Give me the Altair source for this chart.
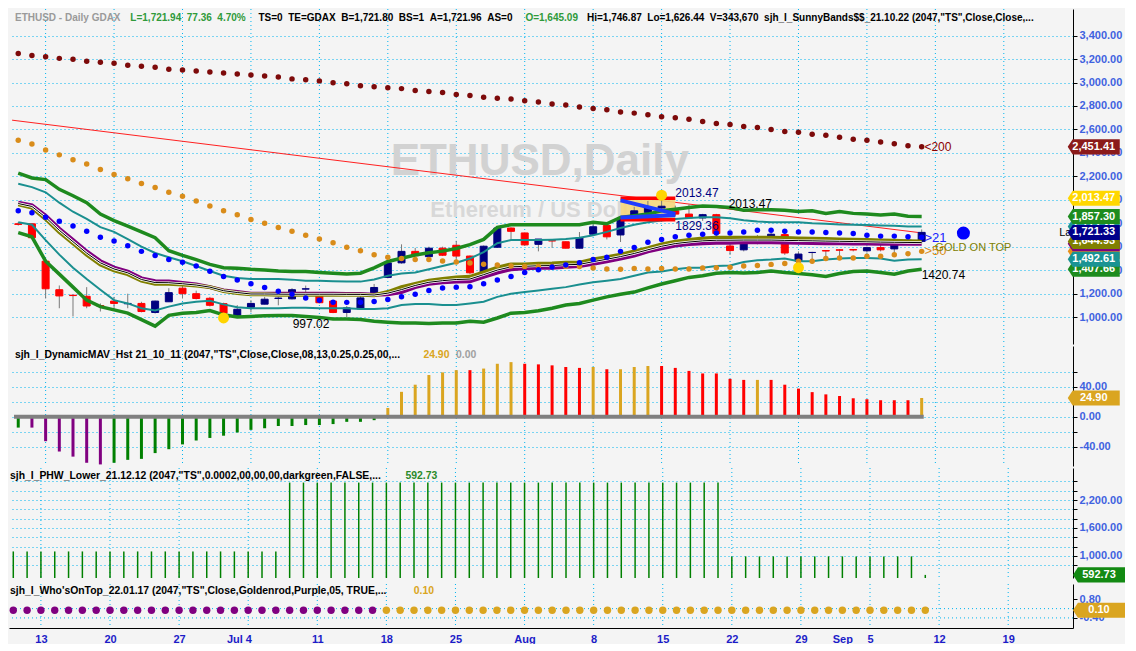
import altair as alt
import pandas as pd

FONT = "Liberation Sans"
GRID = "#00b4f0"
AXIS_BLUE = "#3f62e0"
DATE_BLUE = "#1c1cc8"
BG = "#f4f4f4"
HDR = 10.4
HDR_MAIN = 10

# ---------------- data (bar index 0 = Mon 13 Jun 2022, 5 bars per week) ----------------
bar_index = list(range(-2, 65))

opens = [1795, 1795, 1476, 1233, 1186, 1177, 1097, 1136, 1113, 1116, 1039, 1130,
         1246, 1199, 1160, 1114, 1014, 1083, 1110, 1158, 1155, 1238, 1180, 1136,
         1039, 1069, 1194, 1338, 1462, 1560, 1515, 1587, 1612, 1520, 1383, 1595,
         1759, 1717, 1620, 1651, 1642, 1587, 1706, 1781, 1700, 1865, 1892, 1930,
         1906, 1878, 1845, 1873, 1606, 1573, 1643, 1676, 1703, 1476, 1550, 1567,
         1573, 1575, 1565, 1592, 1581, 1650, 1645.09]
highs = [1810, 1800, 1480, 1269, 1190, 1255, 1116, 1172, 1199, 1130, 1140, 1246,
         1282, 1225, 1172, 1122, 1102, 1144, 1172, 1172, 1246, 1268, 1199, 1144,
         1094, 1199, 1282, 1504, 1620, 1590, 1600, 1600, 1650, 1525, 1610, 1765,
         1765, 1720, 1665, 1665, 1645, 1725, 1815, 1790, 1845, 1940, 1990, 2013.47,
         1950, 1960, 1880, 1880, 1655, 1690, 1700, 1720, 1715, 1560, 1556, 1570,
         1578, 1580, 1600, 1620, 1640, 1690, 1746.87]
lows = [1780, 1668, 1158, 1075, 1005, 1075, 1047, 1066, 1075, 1040, 1030, 1128,
        1158, 1150, 1090, 997.02, 1000, 1040, 1108, 1100, 1150, 1158, 1116, 1033,
        1000, 1060, 1180, 1330, 1455, 1515, 1505, 1520, 1460, 1365, 1380, 1590,
        1660, 1612, 1560, 1590, 1585, 1585, 1700, 1662, 1640, 1850, 1880, 1900,
        1860, 1840, 1820, 1680, 1530, 1560, 1620, 1640, 1530, 1420.74, 1457, 1485,
        1490, 1560, 1550, 1560, 1530, 1620, 1626.44]
closes = [1790, 1676, 1241, 1180, 1183, 1094, 1092, 1116, 1116, 1047, 1136, 1208,
          1199, 1158, 1100, 1033, 1066, 1116, 1152, 1162, 1233, 1241, 1122, 1039,
          1078, 1163, 1252, 1462, 1560, 1523, 1587, 1527, 1520, 1377, 1604, 1759,
          1731, 1615, 1665, 1649, 1587, 1676, 1770, 1684, 1837, 1906, 1934, 1945,
          1878, 1845, 1873, 1712, 1567, 1656, 1676, 1706, 1546, 1537, 1551, 1563,
          1570, 1572, 1592, 1573, 1614, 1656, 1721.94]

ma200 = [3248, 3231, 3220, 3206, 3198, 3181, 3173, 3164, 3148, 3139, 3131, 3114,
         3106, 3098, 3089, 3081, 3073, 3064, 3056, 3048, 3031, 3023, 3014, 2998,
         2989, 2973, 2964, 2956, 2948, 2931, 2923, 2914, 2898, 2889, 2874, 2866,
         2859, 2845, 2834, 2817, 2809, 2792, 2778, 2767, 2748, 2739, 2725, 2709,
         2700, 2686, 2667, 2650, 2642, 2625, 2617, 2600, 2583, 2575, 2558, 2550,
         2533, 2517, 2508, 2492, 2478, 2461, 2451.41]
ma50 = [2508, 2475, 2425, 2383, 2342, 2305, 2258, 2216, 2180, 2139, 2105, 2064,
        2030, 1989, 1947, 1906, 1872, 1831, 1800, 1764, 1731, 1698, 1665, 1634,
        1596, 1565, 1532, 1510, 1500, 1490, 1490, 1478, 1470, 1460, 1450, 1443,
        1435, 1432, 1430, 1430, 1432, 1430, 1418, 1410, 1408, 1413, 1410, 1413,
        1410, 1410, 1418, 1421, 1425, 1435, 1440, 1449, 1457, 1476, 1476, 1499,
        1504, 1504, 1518, 1518, 1532, 1540, 1560]
ma21 = [1906, 1889, 1850, 1817, 1776, 1731, 1681, 1648, 1607, 1560, 1524, 1490,
        1468, 1435, 1391, 1346, 1316, 1283, 1252, 1219, 1194, 1163, 1144, 1127,
        1125, 1127, 1133, 1150, 1172, 1194, 1227, 1247, 1255, 1258, 1283, 1316,
        1346, 1380, 1404, 1427, 1443, 1463, 1490, 1510, 1560, 1593, 1637, 1662,
        1684, 1698, 1706, 1717, 1717, 1726, 1740, 1740, 1731, 1726, 1726, 1720,
        1717, 1712, 1698, 1690, 1690, 1684, 1681]
band_outer_up = [2227, 2186, 2172, 2089, 2034, 1975, 1878, 1823, 1776, 1726, 1676, 1565,
                 1526, 1490, 1449, 1421, 1416, 1407, 1402, 1393, 1388, 1388, 1380, 1374,
                 1366, 1374, 1420, 1474, 1501, 1529, 1548, 1562, 1584, 1617, 1662, 1765,
                 1787, 1787, 1787, 1787, 1787, 1787, 1809, 1795, 1850, 1864, 1878, 1906,
                 1920, 1934, 1947, 1942, 1934, 1911, 1914, 1914, 1911, 1900, 1906, 1884,
                 1900, 1884, 1878, 1870, 1878, 1859, 1857.30]
band_inner_up = [2136, 2108, 2064, 1975, 1898, 1837, 1767, 1726, 1665, 1601, 1546, 1510,
                 1476, 1435, 1393, 1352, 1332, 1324, 1324, 1324, 1319, 1310, 1310, 1305,
                 1302, 1302, 1320, 1352, 1371, 1380, 1407, 1435, 1463, 1499, 1554, 1629,
                 1656, 1656, 1656, 1660, 1665, 1676, 1698, 1726, 1759, 1787, 1809, 1823,
                 1837, 1845, 1851, 1851, 1842, 1825, 1815, 1809, 1809, 1809, 1800, 1795,
                 1790, 1787, 1785, 1781, 1778, 1773, 1772.35]
band_inner_lo = [1809, 1787, 1656, 1532, 1421, 1324, 1233, 1144, 1116, 1075, 1055, 1089,
                 1116, 1130, 1138, 1108, 1083, 1075, 1075, 1075, 1080, 1080, 1075, 1075,
                 1075, 1069, 1069, 1075, 1102, 1111, 1111, 1102, 1102, 1116, 1130, 1172,
                 1199, 1213, 1227, 1241, 1255, 1277, 1296, 1310, 1324, 1352, 1380, 1388,
                 1407, 1421, 1421, 1435, 1440, 1470, 1485, 1490, 1500, 1476, 1476, 1490,
                 1500, 1504, 1504, 1500, 1480, 1490, 1492.61]
band_outer_lo = [1720, 1684, 1476, 1366, 1255, 1144, 1089, 1061, 1033, 978, 922, 1014,
                 1033, 1039, 1055, 1019, 1000, 1005, 1011, 1014, 1014, 1005, 997, 983,
                 983, 978, 964, 956, 950, 950, 945, 950, 950, 964, 956, 992,
                 1033, 1039, 1053, 1075, 1102, 1116, 1144, 1172, 1194, 1213, 1249, 1282,
                 1310, 1338, 1352, 1374, 1380, 1375, 1380, 1393, 1380, 1371, 1360, 1346,
                 1371, 1388, 1393, 1380, 1366, 1393, 1407.66]
avg_purple = [1975, 1953, 1864, 1753, 1656, 1559, 1476, 1421, 1388, 1330, 1305, 1302,
              1291, 1277, 1255, 1227, 1213, 1199, 1199, 1199, 1199, 1199, 1199, 1199,
              1196, 1196, 1190, 1194, 1213, 1255, 1283, 1296, 1302, 1305, 1343, 1380,
              1407, 1416, 1421, 1421, 1429, 1435, 1454, 1476, 1499, 1524, 1560, 1587,
              1610, 1623, 1629, 1634, 1634, 1637, 1637, 1637, 1635, 1633, 1632, 1630,
              1630, 1628, 1627, 1626, 1625, 1625, 1625]
avg_gold = [1961, 1933, 1837, 1726, 1629, 1532, 1449, 1399, 1366, 1310, 1283, 1283,
            1277, 1269, 1255, 1222, 1205, 1194, 1194, 1191, 1190, 1190, 1190, 1190,
            1190, 1190, 1186, 1213, 1255, 1283, 1310, 1324, 1338, 1343, 1380, 1421,
            1449, 1449, 1454, 1457, 1463, 1463, 1490, 1510, 1532, 1560, 1587, 1620,
            1643, 1656, 1670, 1676, 1676, 1676, 1676, 1676, 1673, 1670, 1668, 1665,
            1662, 1660, 1656, 1652, 1650, 1647, 1644.93]

hist_values = [-14.6, -14.6, -32.7, -46.5, -53.3, -61.5, -63.7, -61.5, -57.6, -56.3, -48.6, -43.4,
               -37.0, -31.8, -28.4, -25.4, -21.1, -17.6, -15.5, -12.5, -12.5, -11.2, -11.2, -9.9,
               -6.9, -6.9, -4.7, 11.6, 33.1, 42.6, 55.5, 59.0, 62.0, 62.0, 64.1, 70.5,
               72.7, 70.5, 69.7, 68.4, 66.2, 65.0, 66.2, 63.2, 63.2, 66.2, 67.5, 67.5,
               65.0, 61.0, 57.6, 57.6, 50.4, 49.0, 49.0, 49.0, 42.6, 37.4, 32.7, 29.7,
               27.5, 24.5, 23.2, 21.9, 21.9, 21.9, 24.9]
hist_kind = ("gpppppp" "gggggggggggggggggggg" "oooooo" "r" "ooo" "rrrrr" "o" "r" "ooo"
             "rrrrrrr" "o" "rrrrrrrrrrr" "o")
phw_values = [1096, 1096, 1096, 1096, 1096, 1096, 1096, 1096, 1096, 1096, 1096, 1096,
              1096, 1096, 1096, 1096, 1096, 1096, 1096, 1096, 2574, 2574, 2574, 2574,
              2574, 2574, 2574, 2574, 2574, 2574, 2574, 2574, 2574, 2574, 2574, 2574,
              2574, 2574, 2574, 2574, 2574, 2574, 2574, 2574, 2574, 2574, 2574, 2574,
              2574, 2574, 2574, 2574, 990, 990, 990, 990, 990, 990, 990, 990,
              990, 990, 990, 990, 990, 990, 592.73]
top_kind = ("ppppppppppppppppppppppppppp"
            "oooooooooooooooooooooooooooooooooooooooo")
top_values = [0.1] * 67

week_starts = [0, 5, 10, 15, 20, 25, 30, 35, 40, 45, 50, 55, 60, 65, 70]
x_label_pos = [0, 5, 10, 14, 15, 20, 25, 30, 35, 40, 45, 50, 55, 58, 60, 65, 70]
x_label_txt = ["13", "20", "27", "Jul", "4", "11", "18", "25", "Aug", "8", "15", "22", "29",
               "Sep", "5", "12", "19"]

for arr in [opens, highs, lows, closes, ma200, ma50, ma21, band_outer_up, band_inner_up,
            band_inner_lo, band_outer_lo, avg_purple, avg_gold, hist_values, phw_values]:
    assert len(arr) == 67, len(arr)
assert len(hist_kind) == 67 and len(top_kind) == 67

KIND_COL = {"g": "#008000", "p": "#800080", "o": "#daa520", "r": "#ff0000"}

# ---------------- layout ----------------
W = 1064
H1, H2, H3, H4 = 335, 120, 110, 44
XS = alt.Scale(domain=[-2.31, 74.69], nice=False, zero=False)
FLAG_I = 76.57
FLAG_PATH = "M-1,0L-0.81,-0.29L1,-0.29L1,0.29L-0.81,0.29Z"
FLAG_SIZE = 2704

no_x = alt.Axis(labels=False, ticks=False, domain=False, grid=False, title=None)
bottom_x = alt.Axis(values=x_label_pos, grid=False, ticks=False, domain=True, domainColor="black",
                    labelExpr="[" + ",".join("'%s'" % t for t in x_label_txt) + "][indexof(["
                              + ",".join(str(p) for p in x_label_pos) + "], datum.value)]",
                    labelColor=DATE_BLUE, labelFont=FONT, labelFontSize=11, labelFontWeight="bold",
                    labelPadding=5, labelOverlap=False, labelFlush=False, title=None)


def yaxis(values, label_expr=None, fmt=None):
    kw = dict(orient="right", values=values, grid=True, gridColor=GRID, gridDash=[1, 3],
              gridWidth=1, labelColor=AXIS_BLUE, labelFont=FONT, labelFontSize=11,
              labelFontWeight="bold", tickColor="black", tickSize=4, labelPadding=2,
              domainColor="black", title=None, labelOverlap=False, labelFlush=False)
    if label_expr:
        kw["labelExpr"] = label_expr
    if fmt:
        kw["format"] = fmt
    return alt.Axis(**kw)


class Pane:
    def __init__(self, ydom, yax, xax, height):
        self.ys = alt.Scale(domain=ydom, nice=False, zero=False)
        self.yax = yax
        self.xax = xax
        self.h = height
        self.layers = []

    def x(self, f="i"):
        return alt.X(f + ":Q", scale=XS, axis=self.xax)

    def y(self, f="v"):
        return alt.Y(f + ":Q", scale=self.ys, axis=self.yax)

    def add(self, c):
        self.layers.append(c)

    def grid(self):
        self.add(alt.Chart(pd.DataFrame({"i": week_starts})).mark_rule(
            color=GRID, strokeDash=[1, 3], strokeWidth=1).encode(x=self.x()))

    def text(self, i, v, t, color, size=11, weight="normal", align="left"):
        self.add(alt.Chart(pd.DataFrame({"i": [i], "v": [v], "t": [t]})).mark_text(
            align=align, baseline="middle", font=FONT, fontSize=size, fontWeight=weight,
            color=color).encode(x=self.x(), y=self.y(), text="t:N"))

    def flag(self, v, t, color):
        d = pd.DataFrame({"i": [FLAG_I], "v": [v], "t": [t]})
        self.add(alt.Chart(d).mark_point(shape=FLAG_PATH, size=FLAG_SIZE, filled=True,
                                         color=color, opacity=1, strokeWidth=0)
                 .encode(x=self.x(), y=self.y()))
        if t:
            self.add(alt.Chart(d).mark_text(font=FONT, fontSize=11, fontWeight="bold",
                                            color="white", align="center", baseline="middle")
                     .encode(x=self.x(), y=self.y(), text="t:N"))

    def chart(self):
        return alt.layer(*self.layers).properties(width=W, height=self.h)


# ---------------- main price pane ----------------
p1 = Pane([770, 3627], yaxis(list(range(1000, 3401, 200)), fmt=",.2f"), no_x, H1)
p1.grid()
p1.text(36.1, 2323, "ETHUSD,Daily", "#d2d2d2", size=44, weight="bold", align="center")
p1.text(36.1, 1916, "Ethereum / US Dollar", "#d8d8d8", size=22, weight="bold", align="center")

series = pd.DataFrame({"i": bar_index, "m200": ma200, "m50": ma50, "m21": ma21,
                       "ou": band_outer_up, "iu": band_inner_up, "il": band_inner_lo,
                       "ol": band_outer_lo, "pu": avg_purple, "go": avg_gold})
series["mid"] = (series["pu"] + series["go"]) / 2

trend = pd.DataFrame({"i": [-2.45, 64.1], "v": [2679, 1716]})
p1.add(alt.Chart(trend).mark_line(color="#ff2020", strokeWidth=1, clip=True)
       .encode(x=p1.x(), y=p1.y()))

# pennant fill
pen = pd.DataFrame({"i": [42.0], "i2": [46.0], "v": [1829.36], "v2": [2013.47]})
p1.add(alt.Chart(pen).mark_rect(color="#f6d77c", opacity=0.9)
       .encode(x=p1.x(), x2=alt.X2("i2"), y=p1.y(), y2=alt.Y2("v2")))

cand = pd.DataFrame({"i": bar_index, "o": opens, "h": highs, "l": lows, "c": closes})
cand["dir"] = ["up" if c > o else "down" for o, c in zip(opens, closes)]
cscale = alt.Scale(domain=["up", "down"], range=["#000080", "#ff0000"])
p1.add(alt.Chart(cand).mark_rule(color="#7a7a7a", strokeWidth=1)
       .encode(x=p1.x(), y=p1.y("l"), y2=alt.Y2("h")))
p1.add(alt.Chart(cand).mark_bar(size=7, strokeWidth=1)
       .encode(x=p1.x(), y=p1.y("o"), y2=alt.Y2("c"),
               color=alt.Color("dir:N", scale=cscale, legend=None),
               stroke=alt.Stroke("dir:N", scale=cscale, legend=None)))

for col, color, w in [("ou", "#1e8a1e", 3.5), ("ol", "#1e8a1e", 3.5),
                      ("iu", "#1a8f8f", 2), ("il", "#1a8f8f", 2)]:
    p1.add(alt.Chart(series).mark_line(color=color, strokeWidth=w)
           .encode(x=p1.x(), y=p1.y(col)))

p1.add(alt.Chart(series).mark_line(color="#800080", strokeWidth=4).encode(x=p1.x(), y=p1.y("pu")))
p1.add(alt.Chart(series).mark_line(color="#808000", strokeWidth=4).encode(x=p1.x(), y=p1.y("go")))
p1.add(alt.Chart(series).mark_line(color="white", strokeWidth=2.5).encode(x=p1.x(), y=p1.y("mid")))
p1.add(alt.Chart(series).mark_line(color="black", strokeWidth=1).encode(x=p1.x(), y=p1.y("mid")))

for col, color in [("m200", "#7d0a0a"), ("m50", "#d98c1a"), ("m21", "#0000ff")]:
    p1.add(alt.Chart(series).mark_circle(color=color, size=30, opacity=1)
           .encode(x=p1.x(), y=p1.y(col)))

# pennant lines
pen_red = pd.DataFrame({"i": [42.0, 42.0], "i2": [46.0, 46.0], "v": [2013.47, 1829.36]})
p1.add(alt.Chart(pen_red).mark_rule(color="#ff0000", strokeWidth=3.5)
       .encode(x=p1.x(), x2=alt.X2("i2"), y=p1.y()))
pen_blue = pd.DataFrame({"i": [42.0, 42.0], "i2": [46.0, 46.0],
                         "v": [1995, 1848], "v2": [1880, 1868]})
p1.add(alt.Chart(pen_blue).mark_rule(color="#1f3cff", strokeWidth=4)
       .encode(x=p1.x(), x2=alt.X2("i2"), y=p1.y(), y2=alt.Y2("v2")))

# swing markers
swings = pd.DataFrame({"i": [13, 45, 55], "v": [992, 2039, 1421]})
p1.add(alt.Chart(swings).mark_circle(color="#ffd400", size=120, opacity=1)
       .encode(x=p1.x(), y=p1.y()))

p1.text(46.0, 2062, "2013.47", "#000080", size=12)
p1.text(46.0, 1774, "1829.36", "#000080", size=12)
p1.text(49.9, 1966, "2013.47", "#000000", size=12)
p1.text(18.05, 944, "997.02", "#000000", size=12)
p1.text(64.0, 1359, "1420.74", "#000000", size=12)
p1.text(64.2, 2448, "<200", "#8b0000", size=12)
p1.text(64.2, 1675, ">21", "#2020ff", size=13)
p1.text(64.2, 1559, ">50", "#d98c1a", size=13)
p1.text(65.0, 1592, "GOLD ON TOP", "#808000", size=11)
p1.text(74.05, 1716, "Last", "#000000", size=11)

big = pd.DataFrame({"i": [67.05], "v": [1716]})
p1.add(alt.Chart(big).mark_circle(color="#0000ff", size=170, opacity=1)
       .encode(x=p1.x(), y=p1.y()))

main_flags = [(2451.41, "2,451.41", "#8b1a1a"), (2013.47, "2,013.47", "#ffd700"),
              (1560, "", "#e8901a"), (1625, "", "#800080"),
              (1644.93, "1,644.93", "#808000"), (1407.66, "1,407.66", "#1e8c1e"),
              (1492.61, "1,492.61", "#1a9393"), (1772.35, "1,772.35", "#1a9393"),
              (1857.30, "1,857.30", "#1e8c1e"), (1721.33, "1,721.33", "#00008b")]
for v, t, c in main_flags:
    p1.flag(v, t, c)

hdr_i = [-2.24, 6.19, 15.55, 35.05, 39.55]
hdr_t = ["ETHUSD - Daily GDAX", "L=1,721.94 \u00a077.36 \u00a04.70%",
         "TS=0 \u00a0TE=GDAX \u00a0B=1,721.80 \u00a0BS=1 \u00a0A=1,721.96 \u00a0AS=0",
         "O=1,645.09",
         "Hi=1,746.87 \u00a0Lo=1,626.44 \u00a0V=343,670 \u00a0sjh_I_SunnyBands$$_21.10.22 "
         "(2047,\"TS\",Close,Close,..."]
hdr_c = ["#9a9a9a", "#2f9a3a", "#000000", "#2f9a3a", "#000000"]
for i, t, c in zip(hdr_i, hdr_t, hdr_c):
    p1.text(i, 3551, t, c, size=HDR_MAIN, weight="bold")

# ---------------- DynamicMAV histogram ----------------
p2 = Pane([-65.8, 94.2],
          yaxis([-40, -20, 0, 20, 40, 60],
                label_expr="datum.value == 40 ? '40.00' : datum.value == 0 ? '0.00' : "
                           "datum.value == -40 ? '-40.00' : ''"), no_x, H2)
p2.grid()
hist = pd.DataFrame({"i": bar_index, "v": hist_values, "z": [0] * 67,
                     "col": [KIND_COL[k] for k in hist_kind]})
p2.add(alt.Chart(hist).mark_bar(size=3).encode(
    x=p2.x(), y=p2.y(), y2=alt.Y2("z"), color=alt.Color("col:N", scale=None)))
zero = pd.DataFrame({"i": [-2.31], "i2": [64.15], "v": [0]})
p2.add(alt.Chart(zero).mark_rule(color="#808080", strokeWidth=4)
       .encode(x=p2.x(), x2=alt.X2("i2"), y=p2.y()))
p2.text(-2.24, 82.2, "sjh_I_DynamicMAV_Hst 21_10_11 (2047,\"TS\",Close,Close,08,13,0.25,0.25,00,...",
        "#000000", size=HDR, weight="bold")
p2.text(27.6, 82.2, "24.90", "#daa520", size=HDR, weight="bold")
p2.text(29.98, 82.2, "0.00", "#a0a0a0", size=HDR, weight="bold")
p2.flag(24.9, "24.90", "#daa520")

# ---------------- PHW lower ----------------
p3 = Pane([526, 2887],
          yaxis(list(range(800, 2601, 200)),
                label_expr="datum.value == 1000 ? '1,000.00' : datum.value == 1600 ? '1,600.00' : "
                           "datum.value == 2200 ? '2,200.00' : ''"), no_x, H3)
p3.grid()
phw = pd.DataFrame({"i": bar_index, "v": phw_values, "z": [0] * 67})
p3.add(alt.Chart(phw).mark_rule(color="#008000", strokeWidth=1.5, clip=True)
       .encode(x=p3.x(), y=p3.y(), y2=alt.Y2("z")))
p3.text(-2.24, 2714, "sjh_I_PHW_Lower_21.12.12 (2047,\"TS\",0.0002,00,00,00,darkgreen,FALSE,...",
        "#000000", size=HDR, weight="bold")
p3.text(26.38, 2714, "592.73", "#2a8a2a", size=HDR, weight="bold")
p3.flag(592.73, "592.73", "#138a13")

# ---------------- Who's on top ----------------
p4 = Pane([-1.05, 1.79],
          alt.Axis(orient="right", values=[-0.4, 0.8], grid=False,
                   labelExpr="datum.value > 0.5 ? '0.80' : '-0.40'",
                   labelColor=AXIS_BLUE, labelFont=FONT, labelFontSize=11, labelFontWeight="bold",
                   tickColor="black", tickSize=4, labelPadding=2, domainColor="black",
                   title=None, labelOverlap=False, labelFlush=False),
          bottom_x, H4)
p4.grid()
hgrid = pd.DataFrame({"v": [0.2, -0.4]})
p4.add(alt.Chart(hgrid).mark_rule(color=GRID, strokeDash=[1, 3], strokeWidth=1).encode(y=p4.y()))
tops = pd.DataFrame({"i": bar_index, "v": top_values,
                     "col": [KIND_COL[k] for k in top_kind]})
p4.add(alt.Chart(tops).mark_circle(size=55, opacity=1).encode(
    x=p4.x(), y=p4.y(), color=alt.Color("col:N", scale=None)))
p4.text(-2.24, 1.33, "sjh_I_Who'sOnTop_22.01.17 (2047,\"TS\",Close,Goldenrod,Purple,05, TRUE,...",
        "#000000", size=HDR, weight="bold")
p4.text(26.98, 1.33, "0.10", "#daa520", size=HDR, weight="bold")
p4.flag(0.1, "0.10", "#daa520")

chart = alt.vconcat(p1.chart(), p2.chart(), p3.chart(), p4.chart(), spacing=0).properties(
    padding=0, background=BG).configure_view(stroke=None)

chart.save("out.html", embed_options={"renderer": "svg", "actions": False})
